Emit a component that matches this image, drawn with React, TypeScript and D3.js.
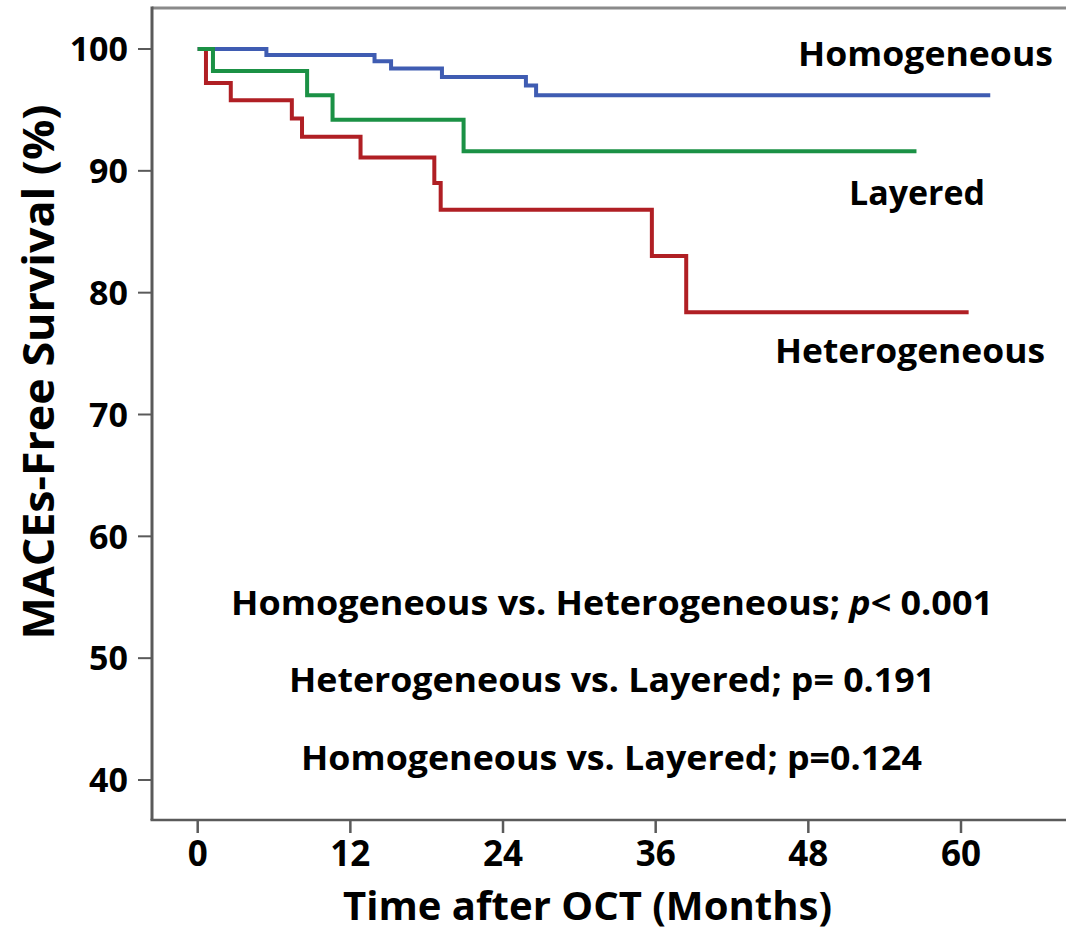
import React from "react";
import * as d3 from "d3";

const xTicks = [0, 12, 24, 36, 48, 60];
const yTicks = [40, 50, 60, 70, 80, 90, 100];

const homogeneousTimes = [0, 5.4, 13.9, 15.2, 19.2, 25.8, 26.6, 62.3];
const homogeneousSurvival = [100, 99.5, 99.0, 98.4, 97.7, 97.0, 96.2, 96.2];

const layeredTimes = [0, 1.2, 8.6, 10.6, 20.9, 56.5];
const layeredSurvival = [100, 98.2, 96.2, 94.2, 91.6, 91.6];

const heterogeneousTimes = [0, 0.65, 2.6, 7.4, 8.2, 12.8, 18.6, 19.1, 35.7, 38.4, 60.6];
const heterogeneousSurvival = [100, 97.2, 95.8, 94.3, 92.8, 91.1, 89.0, 86.8, 83.0, 78.4, 78.4];

const seriesNames = ["Heterogeneous", "Homogeneous", "Layered"];
const pValueLines = [
  ["Homogeneous vs. Heterogeneous; ", "p", "< 0.001"],
  ["Heterogeneous vs. Layered; p= 0.191", "", ""],
  ["Homogeneous vs. Layered; p=0.124", "", ""],
];

const W = 1066;
const H = 934;
const FONT = "'Open Sans', 'Noto Sans', sans-serif";

export default function App() {
  const x = d3.scaleLinear().domain([0, 60]).range([197.7, 961]);
  const y = d3.scaleLinear().domain([40, 100]).range([780, 49]);
  const line = d3
    .line<[number, number]>()
    .x((d) => x(d[0]))
    .y((d) => y(d[1]))
    .curve(d3.curveStepAfter);

  const series = [
    { name: seriesNames[0], t: heterogeneousTimes, s: heterogeneousSurvival, color: "#b01f24" },
    { name: seriesNames[1], t: homogeneousTimes, s: homogeneousSurvival, color: "#3f5cb2" },
    { name: seriesNames[2], t: layeredTimes, s: layeredSurvival, color: "#1b9145" },
  ];

  const axisX = 152;
  const axisY = 820;
  const topY = 8;
  const axisColor = "#5a5a5a";

  return (
    <svg
      width={W}
      height={H}
      style={{ position: "absolute", left: 0, top: 0, background: "#fff" }}
      fontFamily={FONT}
    >
      <rect x={0} y={0} width={W} height={H} fill="#fff" />
      {/* frame */}
      <line x1={axisX} y1={topY} x2={W} y2={topY} stroke="#8a8a8a" strokeWidth={3} />
      <line x1={axisX} y1={topY - 1.5} x2={axisX} y2={axisY} stroke={axisColor} strokeWidth={3} />
      <line x1={axisX - 1.5} y1={axisY} x2={W} y2={axisY} stroke={axisColor} strokeWidth={2.5} />

      {/* y ticks */}
      {yTicks.map((v) => (
        <g key={"y" + v}>
          <line x1={axisX - 14} x2={axisX} y1={y(v)} y2={y(v)} stroke={axisColor} strokeWidth={2} />
          <text
            x={128}
            y={y(v)}
            dy="0.36em"
            textAnchor="end"
            fontSize={34}
            fontWeight={700}
            fill="#000"
          >
            {v}
          </text>
        </g>
      ))}

      {/* x ticks */}
      {xTicks.map((v) => (
        <g key={"x" + v}>
          <line x1={x(v)} x2={x(v)} y1={axisY} y2={axisY + 13} stroke={axisColor} strokeWidth={2.5} />
          <text
            x={x(v)}
            y={866}
            textAnchor="middle"
            fontSize={35}
            fontWeight={700}
            fill="#000"
          >
            {v}
          </text>
        </g>
      ))}

      {/* curves */}
      {series.map((sr) => (
        <path
          key={sr.name}
          d={line(sr.t.map((t, i) => [t, sr.s[i]] as [number, number])) || ""}
          fill="none"
          stroke={sr.color}
          strokeWidth={4}
          strokeLinejoin="miter"
        />
      ))}

      {/* series labels */}
      <text x={798} y={66} fontSize={34} fontWeight={700} fill="#000" textLength={255} lengthAdjust="spacingAndGlyphs">
        {seriesNames[1]}
      </text>
      <text x={849} y={205} fontSize={34} fontWeight={700} fill="#000" textLength={136} lengthAdjust="spacingAndGlyphs">
        {seriesNames[2]}
      </text>
      <text x={775} y={363} fontSize={34} fontWeight={700} fill="#000" textLength={270} lengthAdjust="spacingAndGlyphs">
        {seriesNames[0]}
      </text>

      {/* p values */}
      <text x={231} y={615} fontSize={34} fontWeight={700} fill="#000" textLength={762} lengthAdjust="spacingAndGlyphs">
        {pValueLines[0][0]}
        <tspan fontStyle="italic">{pValueLines[0][1]}</tspan>
        {pValueLines[0][2]}
      </text>
      <text x={289} y={692} fontSize={34} fontWeight={700} fill="#000" textLength={646} lengthAdjust="spacingAndGlyphs">
        {pValueLines[1][0]}
      </text>
      <text x={301} y={770} fontSize={34} fontWeight={700} fill="#000" textLength={621} lengthAdjust="spacingAndGlyphs">
        {pValueLines[2][0]}
      </text>

      {/* axis titles */}
      <text x={343} y={920} fontSize={39} fontWeight={700} fill="#000" textLength={489} lengthAdjust="spacingAndGlyphs">
        Time after OCT (Months)
      </text>
      <text
        transform="translate(54,372) rotate(-90)"
        textAnchor="middle"
        fontSize={43}
        fontWeight={700}
        fill="#000"
        textLength={535}
        lengthAdjust="spacingAndGlyphs"
      >
        MACEs-Free Survival (%)
      </text>
    </svg>
  );
}
